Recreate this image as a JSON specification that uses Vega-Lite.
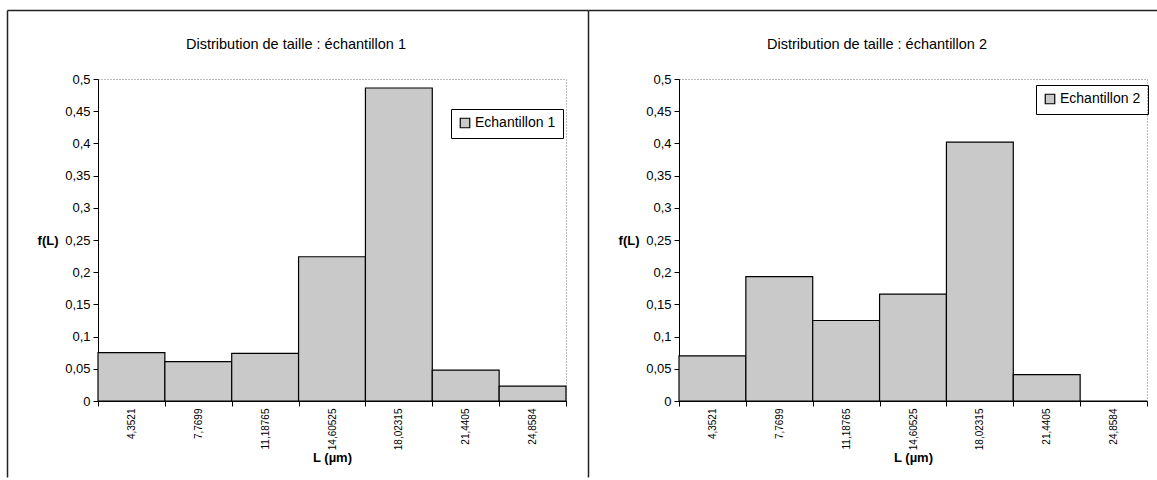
{
  "$schema": "https://vega.github.io/schema/vega-lite/v6.json",
  "autosize": "pad",
  "padding": {"left": 6, "top": 9, "right": 0, "bottom": 0},
  "background": "white",
  "datasets": {
    "tailles": [
      {"ech": "Echantillon 1", "L": "4,3521", "f": 0.075},
      {"ech": "Echantillon 1", "L": "7,7699", "f": 0.061},
      {"ech": "Echantillon 1", "L": "11,18765", "f": 0.074},
      {"ech": "Echantillon 1", "L": "14,60525", "f": 0.224},
      {"ech": "Echantillon 1", "L": "18,02315", "f": 0.486},
      {"ech": "Echantillon 1", "L": "21,4405", "f": 0.048},
      {"ech": "Echantillon 1", "L": "24,8584", "f": 0.023},
      {"ech": "Echantillon 2", "L": "4,3521", "f": 0.07},
      {"ech": "Echantillon 2", "L": "7,7699", "f": 0.193},
      {"ech": "Echantillon 2", "L": "11,18765", "f": 0.125},
      {"ech": "Echantillon 2", "L": "14,60525", "f": 0.166},
      {"ech": "Echantillon 2", "L": "18,02315", "f": 0.402},
      {"ech": "Echantillon 2", "L": "21,4405", "f": 0.041},
      {"ech": "Echantillon 2", "L": "24,8584", "f": 0.0}
    ]
  },
  "config": {
    "font": "Liberation Sans",
    "view": {"stroke": "#777777", "strokeDash": [1, 2], "strokeWidth": 1},
    "axis": {
      "domainColor": "black",
      "tickColor": "black",
      "labelColor": "black",
      "titleColor": "black",
      "labelFontSize": 13,
      "titleFontSize": 13,
      "grid": false,
      "tickSize": 5
    },
    "legend": {
      "labelFontSize": 14,
      "labelColor": "black",
      "strokeColor": "black",
      "padding": 7,
      "symbolType": "square",
      "symbolSize": 90,
      "symbolStrokeColor": "black",
      "symbolStrokeWidth": 1.2,
      "labelOffset": 3
    },
    "title": {"fontSize": 14.5, "fontWeight": "normal", "color": "black"},
    "concat": {"spacing": 113}
  },
  "bounds": "flush",
  "hconcat": [
    {
      "width": 468,
      "height": 322,
      "title": {"text": "Distribution de taille : échantillon 1", "anchor": "middle", "frame": "group", "offset": -42, "dx": -36},
      "layer": [
        {
          "data": {"name": "tailles"},
          "transform": [{"filter": "datum.ech === 'Echantillon 1'"}],
          "mark": {"type": "bar", "stroke": "black", "strokeWidth": 1.2},
          "encoding": {
            "x": {
              "field": "L", "type": "ordinal", "sort": null,
              "scale": {"paddingInner": 0, "paddingOuter": 0},
              "axis": {"title": "L (µm)", "labelAngle": 270, "labelFontSize": 10, "tickBand": "extent", "titleFontWeight": "bold", "titleY": 60, "titleBaseline": "alphabetic", "labelPadding": 2}
            },
            "y": {
              "field": "f", "type": "quantitative",
              "scale": {"domain": [0, 0.5], "nice": false},
              "axis": {
                "title": "f(L)", "values": [0, 0.05, 0.1, 0.15, 0.2, 0.25, 0.3, 0.35, 0.4, 0.45, 0.5],
                "labelExpr": "replace(format(datum.value, '.2~f'), '.', ',')",
                "titleAngle": 0, "titleAlign": "right", "titleBaseline": "middle",
                "titleX": -40, "titleY": 161, "titleFontWeight": "bold", "labelPadding": 3
              }
            },
            "color": {
              "field": "ech", "type": "nominal",
              "scale": {"domain": ["Echantillon 1"], "range": ["#c9c9c9"]},
              "legend": {"title": null, "orient": "none", "legendX": 353, "legendY": 30}
            }
          }
        },
        {
          "data": {"values": [{"c": 0}]},
          "mark": {"type": "point", "opacity": 0, "size": 1},
          "encoding": {
            "x": {
              "datum": 0, "type": "quantitative",
              "scale": {"domain": [0, 1], "range": [-91, 490]},
              "axis": {"orient": "top", "offset": 69, "labels": false, "ticks": false, "title": null, "domainColor": "#222222", "domainWidth": 1.5}
            },
            "y": {
              "datum": 0, "type": "quantitative",
              "scale": {"domain": [0, 1], "range": [398, -69]},
              "axis": {"orient": "left", "offset": 91, "labels": false, "ticks": false, "title": null, "domainColor": "#222222", "domainWidth": 1.5}
            }
          }
        }
      ],
      "resolve": {"scale": {"x": "independent", "y": "independent"}}
    },
    {
      "width": 468,
      "height": 322,
      "title": {"text": "Distribution de taille : échantillon 2", "anchor": "middle", "frame": "group", "offset": -42, "dx": -36},
      "layer": [
        {
          "data": {"name": "tailles"},
          "transform": [{"filter": "datum.ech === 'Echantillon 2'"}],
          "mark": {"type": "bar", "stroke": "black", "strokeWidth": 1.2},
          "encoding": {
            "x": {
              "field": "L", "type": "ordinal", "sort": null,
              "scale": {"paddingInner": 0, "paddingOuter": 0},
              "axis": {"title": "L (µm)", "labelAngle": 270, "labelFontSize": 10, "tickBand": "extent", "titleFontWeight": "bold", "titleY": 60, "titleBaseline": "alphabetic", "labelPadding": 2}
            },
            "y": {
              "field": "f", "type": "quantitative",
              "scale": {"domain": [0, 0.5], "nice": false},
              "axis": {
                "title": "f(L)", "values": [0, 0.05, 0.1, 0.15, 0.2, 0.25, 0.3, 0.35, 0.4, 0.45, 0.5],
                "labelExpr": "replace(format(datum.value, '.2~f'), '.', ',')",
                "titleAngle": 0, "titleAlign": "right", "titleBaseline": "middle",
                "titleX": -40, "titleY": 161, "titleFontWeight": "bold", "labelPadding": 3
              }
            },
            "color": {
              "field": "ech", "type": "nominal",
              "scale": {"domain": ["Echantillon 2"], "range": ["#c9c9c9"]},
              "legend": {"title": null, "orient": "none", "legendX": 357, "legendY": 6}
            }
          }
        },
        {
          "data": {"values": [{"c": 0}]},
          "mark": {"type": "point", "opacity": 0, "size": 1},
          "encoding": {
            "x": {
              "datum": 0, "type": "quantitative",
              "scale": {"domain": [0, 1], "range": [-91, 478]},
              "axis": {"orient": "top", "offset": 69, "labels": false, "ticks": false, "title": null, "domainColor": "#222222", "domainWidth": 1.5}
            },
            "y": {
              "datum": 0, "type": "quantitative",
              "scale": {"domain": [0, 1], "range": [398, -69]},
              "axis": {"orient": "left", "offset": 91, "labels": false, "ticks": false, "title": null, "domainColor": "#222222", "domainWidth": 1.5}
            }
          }
        }
      ],
      "resolve": {"scale": {"x": "independent", "y": "independent"}}
    }
  ],
  "resolve": {"scale": {"color": "independent"}}
}
